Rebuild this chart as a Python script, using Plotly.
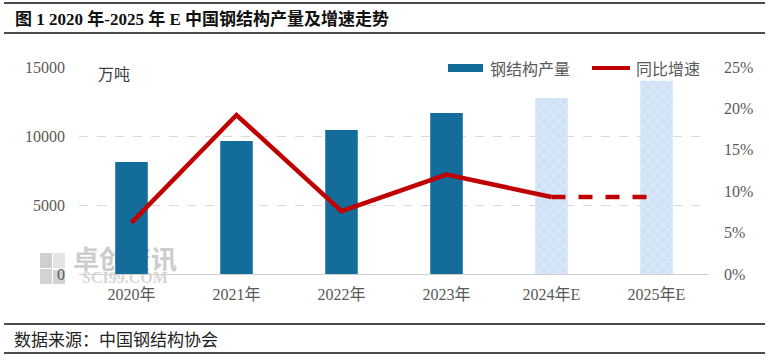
import plotly.graph_objects as go

# ---------------- data ----------------
categories = ["2020年", "2021年", "2022年", "2023年", "2024年E", "2025年E"]
output_wt = [8116, 9640, 10440, 11670, 12750, 14000]      # 万吨
growth_pct = [6.2, 19.2, 7.6, 12.0, 9.3, 9.3]             # %
n_actual = 4                                             # first 4 are actual, rest estimates
left_ticks = [0, 5000, 10000, 15000]
left_ticktext = [str(v) for v in left_ticks]
right_ticks = [0, 5, 10, 15, 20, 25]
right_ticktext = [f"{v}%" for v in right_ticks]

title_text = "图 1 2020 年-2025 年 E 中国钢结构产量及增速走势"
source_text = "数据来源：中国钢结构协会"
unit_text = "万吨"
legend_names = ["钢结构产量", "同比增速"]
wm_texts = ["卓创资讯", "SCI99.COM"]

# ---------------- geometry helpers ----------------
W, H = 769, 360
L, R, T, B = 79, 60, 67, 60          # paper area extends below the plot to hold the watermark
PLOT_BOTTOM = 274                    # pixel row of the value-0 baseline
PW, PH = W - L - R, H - T - B


def px(xp):
    return (xp - L) / PW


def py(yp):
    return (H - B - yp) / PH


BAR_BLUE = "#146c9a"
RED = "#c00000"
GRAY_TXT = "#595959"
SERIF = "Liberation Serif, Noto Sans CJK SC"
SANS = "Noto Sans CJK SC"

fig = go.Figure()

# watermark (own subplot xy, drawn beneath the main subplot)
fig.add_trace(go.Scatter(
    x=[px(125)], y=[py(262)], mode="text", text=[wm_texts[0]],
    xaxis="x", yaxis="y", cliponaxis=False,
    textfont=dict(family=SANS, size=26, color="#cdcdcd", weight="bold"),
    hoverinfo="skip", showlegend=False,
))
fig.add_trace(go.Scatter(
    x=[px(125)], y=[py(279)], mode="text", text=[wm_texts[1]],
    xaxis="x", yaxis="y", cliponaxis=False,
    textfont=dict(family="Liberation Serif", size=16, color="#d6d6d6", weight="bold"),
    hoverinfo="skip", showlegend=False,
))

# bars: actual
fig.add_trace(go.Bar(
    x=categories[:n_actual], y=output_wt[:n_actual], width=0.31,
    marker=dict(color=BAR_BLUE, line=dict(width=0)),
    xaxis="x2", yaxis="y2", showlegend=False, name=legend_names[0],
))
# bars: estimates (textured light blue)
fig.add_trace(go.Bar(
    x=categories[n_actual:], y=output_wt[n_actual:], width=0.31,
    marker=dict(color="#cfe1f5", line=dict(width=0),
                pattern=dict(shape="x", fgcolor="#eef5fd", size=7, solidity=0.3)),
    xaxis="x2", yaxis="y2", showlegend=False, name=legend_names[0],
))
# growth line: solid (actual to first estimate), dashed (estimates)
fig.add_trace(go.Scatter(
    x=categories[:n_actual + 1], y=growth_pct[:n_actual + 1], mode="lines",
    line=dict(color=RED, width=4.5),
    xaxis="x2", yaxis="y3", showlegend=False, name=legend_names[1],
))
fig.add_trace(go.Scatter(
    x=categories[n_actual:], y=growth_pct[n_actual:], mode="lines",
    line=dict(color=RED, width=4.5, dash="14px,13px"),
    xaxis="x2", yaxis="y3", showlegend=False, name=legend_names[1],
))

shapes = []
# title / footer rules
for yline in [3, 33, 324, 353]:
    shapes.append(dict(type="line", xref="paper", yref="paper",
                       x0=px(4), x1=px(765), y0=py(yline), y1=py(yline),
                       line=dict(color="#111111", width=1.6)))
# legend swatches
shapes.append(dict(type="rect", xref="paper", yref="paper",
                   x0=px(448), x1=px(483), y0=py(72), y1=py(64),
                   fillcolor=BAR_BLUE, line=dict(width=0)))
shapes.append(dict(type="line", xref="paper", yref="paper",
                   x0=px(592), x1=px(630), y0=py(68), y1=py(68),
                   line=dict(color=RED, width=4)))
# watermark icon blocks
for (x0, x1, y0, y1, c) in [(40, 52, 253, 268, "#cfcfcf"), (53, 65, 253, 268, "#e4e4e4"),
                            (40, 52, 269, 284, "#d3d3d3"), (53, 65, 270, 284, "#d3d3d3")]:
    shapes.append(dict(type="rect", xref="paper", yref="paper", layer="below",
                       x0=px(x0), x1=px(x1), y0=py(y1), y1=py(y0),
                       fillcolor=c, line=dict(width=0)))

annotations = [
    dict(text=f"<b>{title_text}</b>", xref="paper", yref="paper", x=px(13), y=py(19),
         xanchor="left", yanchor="middle", showarrow=False,
         font=dict(family=SERIF, size=17, color="#111111")),
    dict(text=source_text, xref="paper", yref="paper", x=px(12), y=py(338),
         xanchor="left", yanchor="middle", showarrow=False,
         font=dict(family=SANS, size=17, color="#222222")),
    dict(text=unit_text, xref="paper", yref="paper", x=px(96), y=py(73),
         xanchor="left", yanchor="middle", showarrow=False,
         font=dict(family=SANS, size=16, color="#404040")),
    dict(text=legend_names[0], xref="paper", yref="paper", x=px(488), y=py(68),
         xanchor="left", yanchor="middle", showarrow=False,
         font=dict(family=SANS, size=16, color=GRAY_TXT)),
    dict(text=legend_names[1], xref="paper", yref="paper", x=px(634), y=py(68),
         xanchor="left", yanchor="middle", showarrow=False,
         font=dict(family=SANS, size=16, color=GRAY_TXT)),
]

main_domain = [py(PLOT_BOTTOM), 1]

fig.update_layout(
    width=W, height=H, margin=dict(l=L, r=R, t=T, b=B, autoexpand=False),
    paper_bgcolor="white", plot_bgcolor="rgba(0,0,0,0)",
    barmode="overlay", showlegend=False,
    shapes=shapes, annotations=annotations,
    xaxis=dict(domain=[0, 1], range=[0, 1], visible=False, fixedrange=True, anchor="y"),
    yaxis=dict(domain=[0, 1], range=[0, 1], visible=False, fixedrange=True, anchor="x"),
    xaxis2=dict(domain=[0, 1], anchor="y2", type="category",
                categoryorder="array", categoryarray=categories,
                showline=True, linecolor="#d0d0d0", linewidth=1,
                ticks="", showgrid=False, ticklabelstandoff=6,
                tickfont=dict(family=SERIF, size=16, color=GRAY_TXT)),
    yaxis2=dict(domain=main_domain, anchor="x2", side="left", range=[0, 15000],
                tickvals=left_ticks, ticktext=left_ticktext,
                showgrid=True, gridcolor="#d9d9d9",
                griddash="dash", gridwidth=1, zeroline=False, ticks="",
                ticklabelstandoff=13,
                tickfont=dict(family=SERIF, size=16, color=GRAY_TXT)),
    yaxis3=dict(overlaying="y2", anchor="x2", side="right", range=[0, 25],
                tickvals=right_ticks, ticktext=right_ticktext, showgrid=False,
                zeroline=False, ticks="", ticklabelstandoff=14,
                tickfont=dict(family=SERIF, size=16, color=GRAY_TXT)),
)

fig.write_html("out.html", config={"displayModeBar": False},
               post_script="document.body.style.margin='0';document.body.style.overflow='hidden';")
